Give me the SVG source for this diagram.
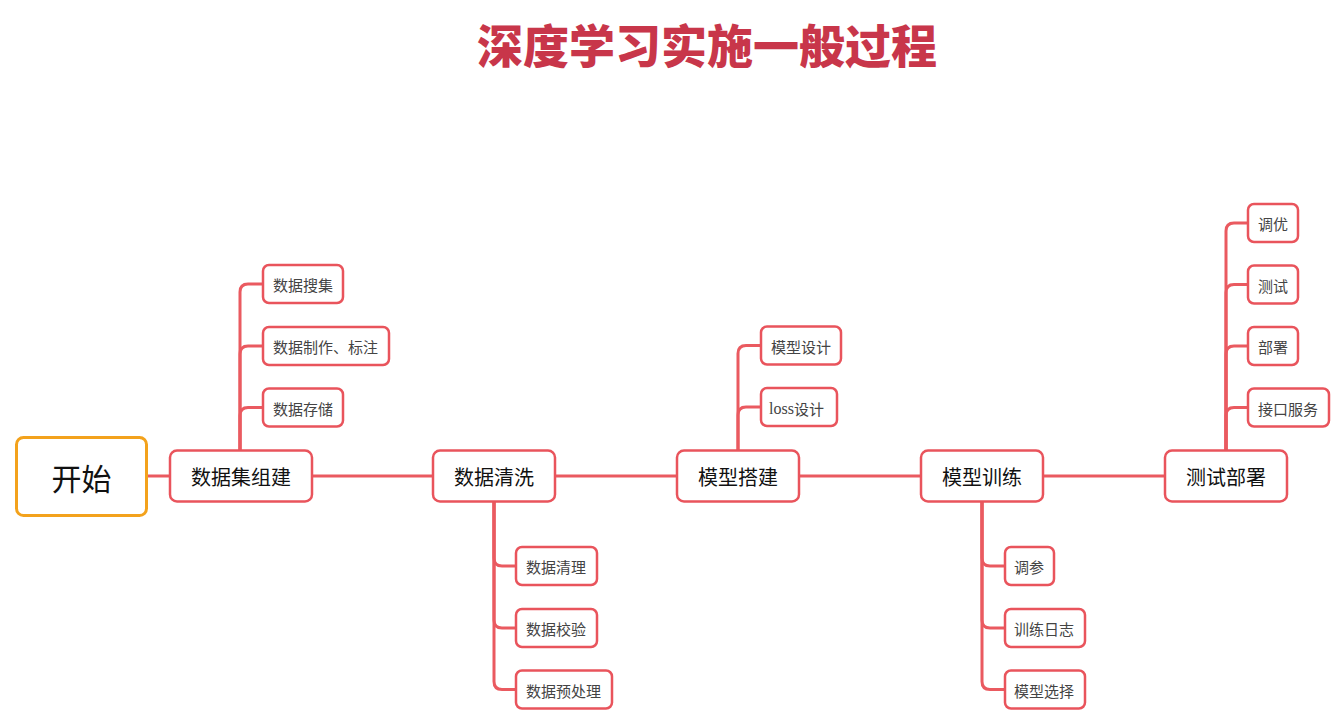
<svg xmlns="http://www.w3.org/2000/svg" width="1335" height="714" viewBox="0 0 1335 714">
<style>
.cn{font-family:"Noto Sans CJK SC","Noto Sans",sans-serif}
.title{font-size:46px;font-weight:900;fill:#c8364a}
.main rect{fill:#fff;stroke:#e9545c;stroke-width:2.5}
.main text{font-size:20px;fill:#111}
.sub rect{fill:#fff;stroke:#e9545c;stroke-width:2.5}
.sub text{font-size:15px;fill:#444}
.start rect{fill:#fff;stroke:#f3a21c;stroke-width:3}
.start text{font-size:30px;fill:#111}
.conn path{fill:none;stroke:#ea5a60;stroke-width:3}
</style>
<rect width="1335" height="714" fill="#fff"/>
<text class="cn title" x="707" y="43" text-anchor="middle" dominant-baseline="central">深度学习实施一般过程</text>
<g id="connectors" class="conn">
<path d="M147 476 H1165"/>
<path d="M240 450 V292 Q240 284 248 284 H263"/>
<path d="M240 450 V354 Q240 346 248 346 H263"/>
<path d="M240 450 V415.5 Q240 407.5 248 407.5 H263"/>
<path d="M738 451 V353.5 Q738 345.5 746 345.5 H761"/>
<path d="M738 451 V415 Q738 407 746 407 H761"/>
<path d="M1226 451 V231 Q1226 223 1234 223 H1248"/>
<path d="M1226 451 V292.5 Q1226 284.5 1234 284.5 H1248"/>
<path d="M1226 451 V354 Q1226 346 1234 346 H1248"/>
<path d="M1226 451 V415.5 Q1226 407.5 1234 407.5 H1248"/>
<path d="M494 502 V558 Q494 566 502 566 H516"/>
<path d="M494 502 V620 Q494 628 502 628 H516"/>
<path d="M494 502 V681.5 Q494 689.5 502 689.5 H516"/>
<path d="M982 502 V558 Q982 566 990 566 H1005"/>
<path d="M982 502 V620 Q982 628 990 628 H1005"/>
<path d="M982 502 V681.5 Q982 689.5 990 689.5 H1005"/>
</g>
<g id="start" class="start"><rect x="16.5" y="437.5" width="130" height="78" rx="7"/><text class="cn" x="81.5" y="477" text-anchor="middle" dominant-baseline="central">开始</text></g>
<g id="n1" class="main"><rect x="170" y="450.5" width="142" height="51" rx="7"/><text class="cn" x="241" y="476.5" text-anchor="middle" dominant-baseline="central">数据集组建</text></g>
<g id="n2" class="main"><rect x="433" y="450.5" width="122" height="51" rx="7"/><text class="cn" x="494" y="476.5" text-anchor="middle" dominant-baseline="central">数据清洗</text></g>
<g id="n3" class="main"><rect x="677" y="450.5" width="122" height="51" rx="7"/><text class="cn" x="738" y="476.5" text-anchor="middle" dominant-baseline="central">模型搭建</text></g>
<g id="n4" class="main"><rect x="921" y="450.5" width="122" height="51" rx="7"/><text class="cn" x="982" y="476.5" text-anchor="middle" dominant-baseline="central">模型训练</text></g>
<g id="n5" class="main"><rect x="1165" y="450.5" width="122" height="51" rx="7"/><text class="cn" x="1226" y="476.5" text-anchor="middle" dominant-baseline="central">测试部署</text></g>
<g id="s1a" class="sub"><rect x="263" y="265" width="80" height="38" rx="6"/><text class="cn" x="273" y="284.5" dominant-baseline="central">数据搜集</text></g>
<g id="s1b" class="sub"><rect x="263" y="327" width="126" height="38" rx="6"/><text class="cn" x="273" y="346.5" dominant-baseline="central">数据制作、标注</text></g>
<g id="s1c" class="sub"><rect x="263" y="388.5" width="80" height="38" rx="6"/><text class="cn" x="273" y="408" dominant-baseline="central">数据存储</text></g>
<g id="s3a" class="sub"><rect x="761" y="326.5" width="80" height="38" rx="6"/><text class="cn" x="771" y="346" dominant-baseline="central">模型设计</text></g>
<g id="s3b" class="sub"><rect x="761" y="388" width="76" height="38" rx="6"/><text x="769" y="407.5" dominant-baseline="central"><tspan font-family="Liberation Serif, serif" font-size="16">loss</tspan><tspan class="cn">设计</tspan></text></g>
<g id="s5a" class="sub"><rect x="1248" y="204" width="50" height="38" rx="6"/><text class="cn" x="1258" y="223.5" dominant-baseline="central">调优</text></g>
<g id="s5b" class="sub"><rect x="1248" y="265.5" width="50" height="38" rx="6"/><text class="cn" x="1258" y="285" dominant-baseline="central">测试</text></g>
<g id="s5c" class="sub"><rect x="1248" y="327" width="50" height="38" rx="6"/><text class="cn" x="1258" y="346.5" dominant-baseline="central">部署</text></g>
<g id="s5d" class="sub"><rect x="1248" y="388.5" width="81" height="38" rx="6"/><text class="cn" x="1258" y="408" dominant-baseline="central">接口服务</text></g>
<g id="s2a" class="sub"><rect x="516" y="547" width="81" height="38" rx="6"/><text class="cn" x="526" y="566.5" dominant-baseline="central">数据清理</text></g>
<g id="s2b" class="sub"><rect x="516" y="609" width="81" height="38" rx="6"/><text class="cn" x="526" y="628.5" dominant-baseline="central">数据校验</text></g>
<g id="s2c" class="sub"><rect x="516" y="670.5" width="96" height="38" rx="6"/><text class="cn" x="526" y="690" dominant-baseline="central">数据预处理</text></g>
<g id="s4a" class="sub"><rect x="1005" y="547" width="49" height="38" rx="6"/><text class="cn" x="1014" y="566.5" dominant-baseline="central">调参</text></g>
<g id="s4b" class="sub"><rect x="1005" y="609" width="80" height="38" rx="6"/><text class="cn" x="1014" y="628.5" dominant-baseline="central">训练日志</text></g>
<g id="s4c" class="sub"><rect x="1005" y="670.5" width="80" height="38" rx="6"/><text class="cn" x="1014" y="690" dominant-baseline="central">模型选择</text></g>
</svg>
